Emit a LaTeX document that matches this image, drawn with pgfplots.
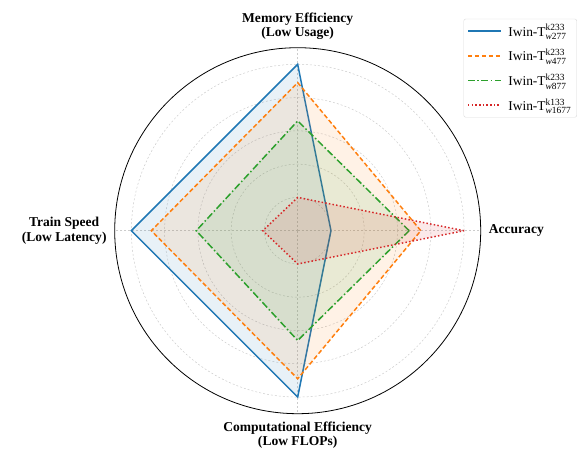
\documentclass[border=0pt]{standalone}
\usepackage{amsmath}
\usepackage{fontspec}
\setmainfont{Liberation Serif}
\usepackage{pgfplots}
\pgfplotsset{compat=1.18}
\usepgfplotslibrary{polar}
\definecolor{c1}{HTML}{1F77B4}
\definecolor{c2}{HTML}{FF7F0E}
\definecolor{c3}{HTML}{2CA02C}
\definecolor{c4}{HTML}{D62728}
\begin{document}
\begin{tikzpicture}
\begin{polaraxis}[
  name=ax,
  width=366bp, height=366bp, scale only axis,
  font=\fontsize{12}{13.5}\selectfont,
  xtick={0,90,180,270},
  xticklabels={{Accuracy},{Memory Efficiency\\(Low Usage)},{Train Speed\\(Low Latency)},{Computational Efficiency\\(Low FLOPs)}},
  xticklabel style={align=center, font=\fontsize{13.6}{14.5}\selectfont\bfseries, inner sep=8pt},
  ymin=0, ymax=1.1, ytick={0.2,0.4,0.6,0.8,1.0}, yticklabels={},
  xmajorgrids, ymajorgrids,
  major grid style={gray!40, dash pattern=on 2pt off 2pt, line width=0.5pt},
  major tick length=0pt,
  axis line style={black, line width=0.8pt},
  y axis line style={draw=none},
  legend style={at={(1.263,1.079)}, anchor=north east, draw=gray!30, rounded corners=2pt, fill=white, font=\fontsize{13.5}{15}\selectfont, row sep=7.5pt, column sep=5pt, inner sep=3.5pt},
  legend cell align=left,
  legend image code/.code={\draw[#1, line width=1.5pt, fill opacity=0] plot coordinates {(0cm,0cm) (0.6cm,0cm) (1.15cm,0cm)};},
]
\addplot[draw=c1, line width=1.5pt, fill=c1, fill opacity=0.1]
  coordinates {(0,0.2) (90,1.0) (180,1.0) (270,1.0) (360,0.2)};
\addlegendentry{Iwin-T$^{\text{k233}}_{\textit{w}\text{277}}$}
\addplot[draw=c2, line width=1.5pt, dash pattern=on 4.5pt off 2.5pt, fill=c2, fill opacity=0.1]
  coordinates {(0,0.74) (90,0.89) (180,0.88) (270,0.89) (360,0.74)};
\addlegendentry{Iwin-T$^{\text{k233}}_{\textit{w}\text{477}}$}
\addplot[draw=c3, line width=1.5pt, dash pattern=on 7pt off 2.5pt on 1.5pt off 2.5pt, fill=c3, fill opacity=0.1]
  coordinates {(0,0.67) (90,0.66) (180,0.61) (270,0.66) (360,0.67)};
\addlegendentry{Iwin-T$^{\text{k233}}_{\textit{w}\text{877}}$}
\addplot[draw=c4, line width=1.5pt, dash pattern=on 1.5pt off 2.2pt, fill=c4, fill opacity=0.1]
  coordinates {(0,1.0) (90,0.2) (180,0.21) (270,0.2) (360,1.0)};
\addlegendentry{Iwin-T$^{\text{k133}}_{\textit{w}\text{1677}}$}
\end{polaraxis}
\pgfresetboundingbox
\path[use as bounding box] ([shift={(-297.7bp,230.7bp)}]ax.center) rectangle ([shift={(281.3bp,-221.3bp)}]ax.center);
\end{tikzpicture}
\end{document}
